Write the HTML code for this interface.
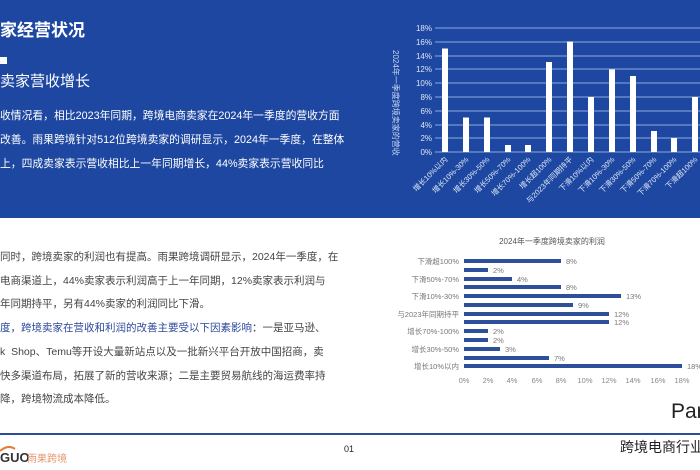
<!DOCTYPE html>
<html><head><meta charset="utf-8"><style>
*{margin:0;padding:0}
body{width:700px;height:470px;position:relative;overflow:hidden;background:#fff;font-family:"Liberation Sans","Noto Sans CJK SC",sans-serif}
.t{position:absolute;white-space:nowrap}
</style></head><body>
<div style="position:absolute;left:0;top:0;width:700px;height:218px;background:#1d47a0"></div>
<div class="t" style="left:0;top:16px;font-size:17px;font-weight:bold;color:#fff">家经营状况</div>
<div style="position:absolute;left:0;top:57px;width:7px;height:7px;background:#fff"></div>
<div class="t" style="left:0;top:70px;font-size:15px;color:#fff">卖家营收增长</div>
<div class="t" style="left:0;top:104px;font-size:10.8px;line-height:24px;color:#fff">收情况看，相比2023年同期，跨境电商卖家在2024年一季度的营收方面<br>改善。雨果跨境针对512位跨境卖家的调研显示，2024年一季度，在整体<br>上，四成卖家表示营收相比上一年同期增长，44%卖家表示营收同比</div>
<div class="t" style="left:0;top:246px;font-size:10.5px;line-height:23.7px;color:#444">同时，跨境卖家的利润也有提高。雨果跨境调研显示，2024年一季度，在<br>电商渠道上，44%卖家表示利润高于上一年同期，12%卖家表示利润与<br>年同期持平，另有44%卖家的利润同比下滑。<br><span style="color:#2b4a9c">度，跨境卖家在营收和利润的改善主要受以下因素影响</span>：一是亚马逊、<br>k&nbsp; Shop、Temu等开设大量新站点以及一批新兴平台开放中国招商，卖<br>快多渠道布局，拓展了新的营收来源；二是主要贸易航线的海运费率持<br>降，跨境物流成本降低。</div>
<svg style="position:absolute;left:0;top:0" width="700" height="470" font-family="Liberation Sans,Noto Sans CJK SC,sans-serif">
<g stroke="#8fa9dc" stroke-width="1">
<line x1="435" x2="700" y1="28" y2="28"/><line x1="435" x2="700" y1="42" y2="42"/><line x1="435" x2="700" y1="56" y2="56"/><line x1="435" x2="700" y1="69" y2="69"/><line x1="435" x2="700" y1="83" y2="83"/><line x1="435" x2="700" y1="97" y2="97"/><line x1="435" x2="700" y1="111" y2="111"/><line x1="435" x2="700" y1="125" y2="125"/><line x1="435" x2="700" y1="138" y2="138"/><line x1="435" x2="700" y1="152" y2="152"/>
</g>
<g fill="#dde6f7" font-size="8" text-anchor="end">
<text x="432" y="31">18%</text><text x="432" y="45">16%</text><text x="432" y="59">14%</text><text x="432" y="72">12%</text><text x="432" y="86">10%</text><text x="432" y="100">8%</text><text x="432" y="114">6%</text><text x="432" y="128">4%</text><text x="432" y="141">2%</text><text x="432" y="155">0%</text>
</g>
<text transform="translate(393,50) rotate(90)" fill="#c9d5f0" font-size="8">2024年一季度跨境卖家的营收</text>
<g fill="#fff">
<rect x="442" y="48.5" width="6" height="103.5"/><rect x="463" y="117.5" width="6" height="34.5"/><rect x="484" y="117.5" width="6" height="34.5"/><rect x="505" y="145" width="6" height="7"/><rect x="525" y="145" width="6" height="7"/><rect x="546" y="62" width="6" height="90"/><rect x="567" y="41.5" width="6" height="110.5"/><rect x="588" y="97" width="6" height="55"/><rect x="609" y="69.5" width="6" height="82.5"/><rect x="630" y="76" width="6" height="76"/><rect x="651" y="131" width="6" height="21"/><rect x="671" y="138" width="6" height="14"/><rect x="692" y="97" width="6" height="55"/>
</g>
<g fill="#dde6f7" font-size="7.5" text-anchor="end">
<text transform="translate(448,160) rotate(-45)">增长10%以内</text><text transform="translate(469,160) rotate(-45)">增长10%-30%</text><text transform="translate(490,160) rotate(-45)">增长30%-50%</text><text transform="translate(511,160) rotate(-45)">增长50%-70%</text><text transform="translate(531,160) rotate(-45)">增长70%-100%</text><text transform="translate(552,160) rotate(-45)">增长超100%</text><text transform="translate(573,160) rotate(-45)">与2023年同期持平</text><text transform="translate(594,160) rotate(-45)">下滑10%以内</text><text transform="translate(615,160) rotate(-45)">下滑10%-30%</text><text transform="translate(636,160) rotate(-45)">下滑30%-50%</text><text transform="translate(657,160) rotate(-45)">下滑50%-70%</text><text transform="translate(677,160) rotate(-45)">下滑70%-100%</text><text transform="translate(698,160) rotate(-45)">下滑超100%</text>
</g>
<text x="552" y="244" font-size="8" fill="#555" text-anchor="middle">2024年一季度跨境卖家的利润</text>
<g fill="#2e4f9a">
<rect x="464" y="259" width="97" height="4"/><rect x="464" y="268" width="24" height="4"/><rect x="464" y="277" width="48" height="4"/><rect x="464" y="285" width="97" height="4"/><rect x="464" y="294" width="157" height="4"/><rect x="464" y="303" width="109" height="4"/><rect x="464" y="312" width="145" height="4"/><rect x="464" y="320" width="145" height="4"/><rect x="464" y="329" width="24" height="4"/><rect x="464" y="338" width="24" height="4"/><rect x="464" y="347" width="36" height="4"/><rect x="464" y="356" width="85" height="4"/><rect x="464" y="364" width="218" height="4"/>
</g>
<g fill="#777" font-size="7.5">
<text x="566" y="264">8%</text><text x="493" y="273">2%</text><text x="517" y="282">4%</text><text x="566" y="290">8%</text><text x="626" y="299">13%</text><text x="578" y="308">9%</text><text x="614" y="317">12%</text><text x="614" y="325">12%</text><text x="493" y="334">2%</text><text x="493" y="343">2%</text><text x="505" y="352">3%</text><text x="554" y="361">7%</text><text x="687" y="369">18%</text>
</g>
<g fill="#777" font-size="7.5" text-anchor="end">
<text x="459" y="264">下滑超100%</text><text x="459" y="282">下滑50%-70%</text><text x="459" y="299">下滑10%-30%</text><text x="459" y="317">与2023年同期持平</text><text x="459" y="334">增长70%-100%</text><text x="459" y="352">增长30%-50%</text><text x="459" y="369">增长10%以内</text>
</g>
<g fill="#888" font-size="7.5" text-anchor="middle">
<text x="464" y="383">0%</text><text x="488" y="383">2%</text><text x="512" y="383">4%</text><text x="537" y="383">6%</text><text x="561" y="383">8%</text><text x="585" y="383">10%</text><text x="609" y="383">12%</text><text x="633" y="383">14%</text><text x="658" y="383">16%</text><text x="682" y="383">18%</text>
</g>
<text x="671" y="418" font-size="21" fill="#222">Par</text>
<line x1="0" x2="700" y1="434" y2="434" stroke="#2d4c9a" stroke-width="2"/>
<text x="620" y="452" font-size="14" fill="#222">跨境电商行业</text>
<text x="344" y="452" font-size="9" fill="#222">01</text>
<path d="M0,451 Q8,444 15,449" stroke="#e87a3a" stroke-width="2" fill="none"/>
<text x="0" y="462" font-size="13" font-weight="bold" fill="#333">GUO</text>
<text x="27" y="462" font-size="10" fill="#e8956a">雨果跨境</text>
</svg>
</body></html>
